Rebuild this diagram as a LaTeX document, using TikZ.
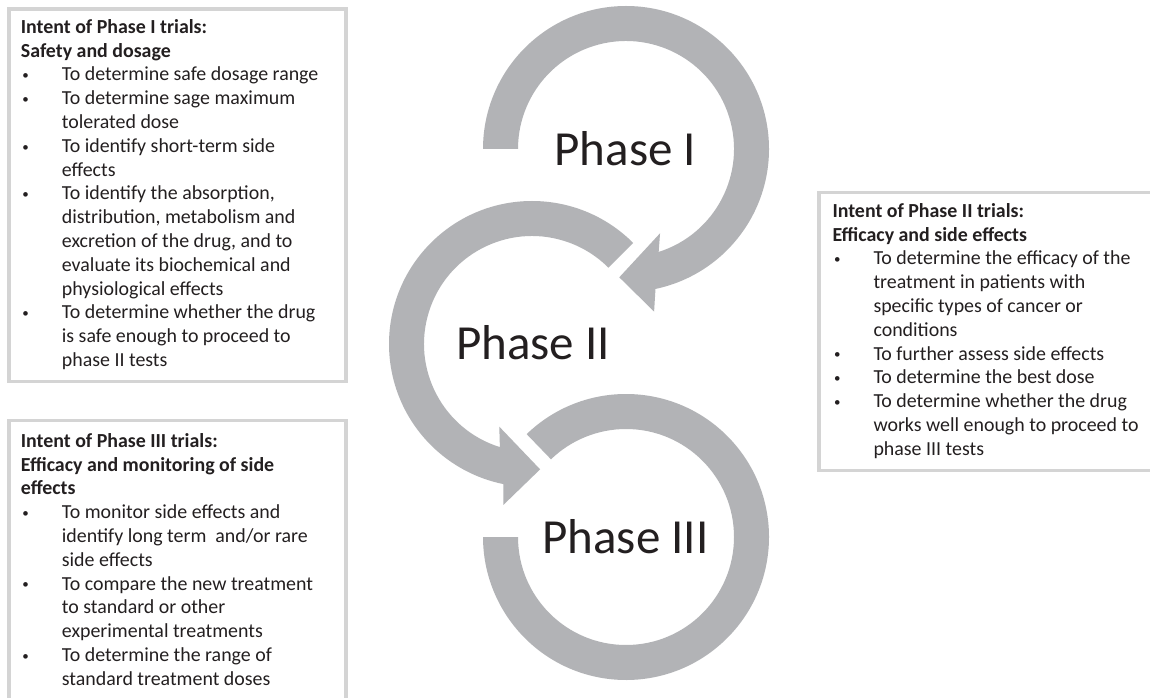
\documentclass[tikz,border=0pt]{standalone}
\usepackage{fontspec}
\setmainfont{Carlito}
\definecolor{ringgray}{RGB}{178,179,182}
\definecolor{boxgray}{RGB}{212,212,212}
\definecolor{inkblack}{RGB}{35,31,32}
% bullet item and continuation line inside the info boxes
\newcommand\bulletitem{\makebox[41pt][l]{\hspace*{1.5pt}\raisebox{1.2pt}{\fontsize{13}{13}\selectfont •}}}
\newcommand\contline{\hspace*{41pt}}
\begin{document}
\begin{tikzpicture}[x=1pt,y=1pt,
  ring/.style={fill=ringgray, draw=none},
  infobox/.style={draw=boxgray, line width=3.3pt},
  boxtext/.style={anchor=base west, inner sep=0pt, text=inkblack,
    font=\fontsize{19.9}{23.8}\selectfont},
  phaselabel/.style={anchor=base, inner sep=0pt, text=inkblack,
    font=\fontsize{49}{58}\selectfont}]

\fill[white] (0,0) rectangle (1150,697);
\useasboundingbox (0,0) rectangle (1150,697);
\clip (0,0) rectangle (1150,697);

% ring centres
\coordinate (c1) at (626,548);
\coordinate (c2) at (532,353);
\coordinate (c3) at (626,160);

% Phase I ring, ending in an arrow pointing into Phase II
\fill[ring, shift={(c1)}] (180:143) arc[start angle=180, end angle=-78.1, radius=143]
  -- (-80.2:165) -- (-93:128.5) -- (-68:90.9) -- (-72.4:108)
  arc[start angle=-72.4, end angle=180, radius=108] -- cycle;

% Phase II ring, ending in an arrow pointing into Phase III
\fill[ring, shift={(c2)}] (45:143) arc[start angle=45, end angle=258.4, radius=143]
  -- (259.9:163.5) -- (273.7:125.6) -- (248.4:88.9) -- (252.7:108)
  arc[start angle=252.7, end angle=45, radius=108] -- cycle;

% Phase III ring
\fill[ring, shift={(c3)}] (134:143) arc[start angle=134, end angle=-180, radius=143]
  -- (180:108) arc[start angle=-180, end angle=134, radius=108] -- cycle;

% phase labels
\node[phaselabel] (p1) at (625.3,531.3) {Phase I};
\node[phaselabel] (p2) at (533,337.7) {Phase II};
\node[phaselabel] (p3) at (625.5,144) {Phase III};

% info boxes
\draw[infobox] (9,688) rectangle (346,315.3);
\draw[infobox] (819,504.3) rectangle (1165,226.7);
\draw[infobox] (9,276.3) rectangle (346,-15);

\node[boxtext] (t1) at (20.7,663.7) {\begin{tabular}[t]{@{}l@{}}
\textbf{Intent of Phase I trials:}\\
\textbf{Safety and dosage}\\
\bulletitem To determine safe dosage range\\
\bulletitem To determine sage maximum\\
\contline tolerated dose\\
\bulletitem To identify short-term side\\
\contline effects\\
\bulletitem To identify the absorption,\\
\contline distribution, metabolism and\\
\contline excretion of the drug, and to\\
\contline evaluate its biochemical and\\
\contline physiological effects\\
\bulletitem To determine whether the drug\\
\contline is safe enough to proceed to\\
\contline phase II tests
\end{tabular}};

\node[boxtext] (t2) at (832.3,479.7) {\begin{tabular}[t]{@{}l@{}}
\textbf{Intent of Phase II trials:}\\
\textbf{Efficacy and side effects}\\
\bulletitem To determine the efficacy of the\\
\contline treatment in patients with\\
\contline specific types of cancer or\\
\contline conditions\\
\bulletitem To further assess side effects\\
\bulletitem To determine the best dose\\
\bulletitem To determine whether the drug\\
\contline works well enough to proceed to\\
\contline phase III tests
\end{tabular}};

\node[boxtext] (t3) at (20.7,249.7) {\begin{tabular}[t]{@{}l@{}}
\textbf{Intent of Phase III trials:}\\
\textbf{Efficacy and monitoring of side}\\
\textbf{effects}\\
\bulletitem To monitor side effects and\\
\contline identify long term~ and/or rare\\
\contline side effects\\
\bulletitem To compare the new treatment\\
\contline to standard or other\\
\contline experimental treatments\\
\bulletitem To determine the range of\\
\contline standard treatment doses
\end{tabular}};

\end{tikzpicture}
\end{document}
